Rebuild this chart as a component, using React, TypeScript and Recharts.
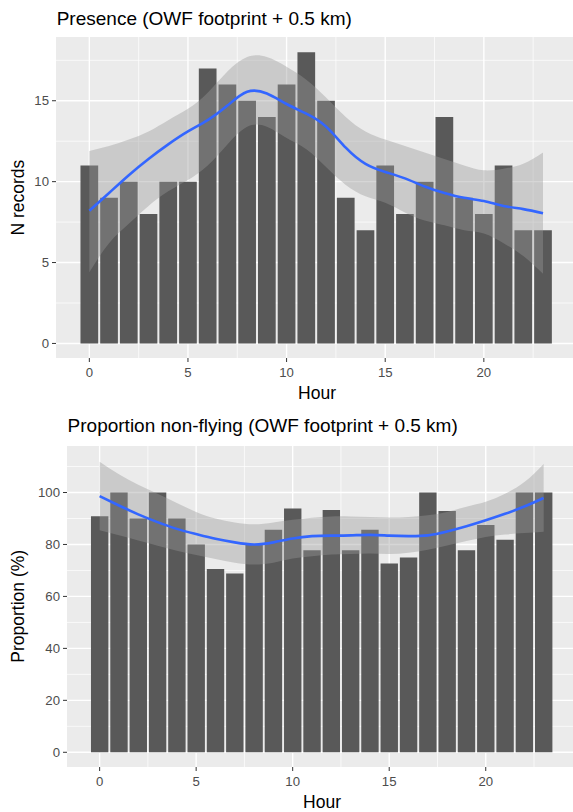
import React from 'react';
import { ComposedChart, Bar, Area, Line, XAxis, YAxis, CartesianGrid } from 'recharts';

const hours = [0, 1, 2, 3, 4, 5, 6, 7, 8, 9, 10, 11, 12, 13, 14, 15, 16, 17, 18, 19, 20, 21, 22, 23];

// top panel: records per hour + loess fit with its band
const presenceCounts = [11, 9, 10, 8, 10, 10, 17, 16, 15, 14, 16, 18, 15, 9, 7, 11, 8, 10, 14, 9, 8, 11, 7, 7];
const presenceFit = [8.2, 9.3, 10.4, 11.4, 12.3, 13.1, 13.8, 14.7, 15.55, 15.45, 14.8, 14.2, 13.4, 12.1, 11.1, 10.6, 10.2, 9.7, 9.3, 9.0, 8.8, 8.5, 8.3, 8.05];
const presenceLower = [4.4, 6.2, 7.4, 8.5, 9.4, 10.1, 11.0, 12.3, 13.4, 13.4, 12.7, 12.0, 10.9, 9.8, 9.1, 8.7, 8.1, 7.6, 7.3, 7.0, 6.8, 6.2, 5.4, 4.3];
const presenceUpper = [11.9, 12.2, 12.6, 13.1, 13.8, 14.5, 15.5, 16.8, 17.7, 17.7, 17.1, 16.3, 15.2, 14.0, 13.1, 12.6, 12.2, 11.8, 11.4, 11.0, 10.7, 10.8, 11.1, 11.8];

// bottom panel: proportion non-flying per hour + loess fit with its band
const nonFlyingPct = [90.9, 100, 90, 100, 90, 80, 70.6, 68.8, 80, 85.7, 93.8, 77.8, 93.3, 77.8, 85.7, 72.7, 75, 100, 92.9, 77.8, 87.5, 81.8, 100, 100];
const nonFlyingFit = [98.6, 95.0, 91.6, 88.6, 86.0, 84.0, 82.2, 80.8, 80.0, 80.8, 82.3, 83.2, 83.4, 83.5, 83.7, 83.4, 83.2, 83.5, 85.0, 87.0, 89.3, 91.8, 94.6, 97.9];
const nonFlyingLower = [85.5, 83.5, 81.5, 79.5, 77.6, 75.9, 74.4, 73.0, 72.3, 73.0, 74.6, 75.5, 76.1, 76.3, 76.5, 76.3, 76.8, 78.0, 79.6, 81.3, 82.9, 83.8, 84.4, 84.9];
const nonFlyingUpper = [111.8, 107.0, 103.0, 99.5, 96.0, 92.5, 90.0, 88.5, 87.8, 88.5, 89.5, 90.3, 90.8, 90.8, 90.6, 90.4, 90.6, 91.2, 92.5, 94.5, 96.4, 99.5, 104.0, 111.0];

const hourTicks = [0, 5, 10, 15, 20];
const hourMinor = [2.5, 7.5, 12.5, 17.5, 22.5];
const countTicks = [0, 5, 10, 15];
const countMinor = [2.5, 7.5, 12.5, 17.5];
const pctTicks = [0, 20, 40, 60, 80, 100];
const pctMinor = [10, 30, 50, 70, 90, 110];

const FONT = '"Liberation Sans", Arial, sans-serif';
const X_DOMAIN = [-1.69, 24.52];

const presenceRows = hours.map((h, i) => ({
  hour: h,
  value: presenceCounts[i],
  fit: presenceFit[i],
  band: [presenceLower[i], presenceUpper[i]],
}));

const nonFlyingRows = hours.map((h, i) => ({
  hour: h,
  value: nonFlyingPct[i],
  fit: nonFlyingFit[i],
  band: [nonFlyingLower[i], nonFlyingUpper[i]],
}));

interface PanelProps {
  rows: Record<string, unknown>[];
  height: number;
  top: number;
  yWidth: number;
  xHeight: number;
  yDomain: number[];
  yTicks: number[];
  yMinor: number[];
  barSize: number;
}

function Panel({ rows, height, top, yWidth, xHeight, yDomain, yTicks, yMinor, barSize }: PanelProps) {
  const tickStyle = { fill: '#4D4D4D', fontSize: 13.2, fontFamily: FONT };
  return (
    <ComposedChart width={573} height={height} data={rows} margin={{ top, right: 0, bottom: 0, left: 0 }}>
      <CartesianGrid fill="#EBEBEB" stroke="#FFFFFF" strokeWidth={0.7} verticalValues={hourMinor} horizontalValues={yMinor} />
      <CartesianGrid stroke="#FFFFFF" strokeWidth={1.4} verticalValues={hourTicks} horizontalValues={yTicks} />
      <XAxis
        type="number"
        dataKey="hour"
        domain={X_DOMAIN}
        ticks={hourTicks}
        allowDataOverflow
        interval={0}
        axisLine={false}
        tickLine={{ stroke: '#333333' }}
        tickSize={4}
        tickMargin={6}
        height={xHeight}
        tick={tickStyle}
      />
      <YAxis
        type="number"
        domain={yDomain}
        ticks={yTicks}
        allowDataOverflow
        interval={0}
        width={yWidth}
        axisLine={false}
        tickLine={{ stroke: '#333333' }}
        tickSize={4}
        tickMargin={3}
        tick={tickStyle}
      />
      <Bar dataKey="value" fill="#595959" barSize={barSize} isAnimationActive={false} />
      <Area dataKey="band" type="natural" stroke="none" fill="#999999" fillOpacity={0.4} isAnimationActive={false} zIndex={350} />
      <Line dataKey="fit" type="natural" stroke="#3366FF" strokeWidth={2.6} dot={false} isAnimationActive={false} />
    </ComposedChart>
  );
}

export default function App() {
  return (
    <div style={{ position: 'absolute', left: 0, top: 0, width: 573, height: 812, background: '#FFFFFF', fontFamily: FONT }}>
      <div style={{ position: 'absolute', left: 0, top: 0 }}>
        <Panel
          rows={presenceRows}
          height={400}
          top={37}
          yWidth={56}
          xHeight={42}
          yDomain={[-0.9, 18.94]}
          yTicks={countTicks}
          yMinor={countMinor}
          barSize={17.7}
        />
      </div>
      <div style={{ position: 'absolute', left: 0, top: 400 }}>
        <Panel
          rows={nonFlyingRows}
          height={412}
          top={46}
          yWidth={67}
          xHeight={45}
          yDomain={[-5.66, 117.9]}
          yTicks={pctTicks}
          yMinor={pctMinor}
          barSize={17.4}
        />
      </div>
      <svg width={573} height={812} style={{ position: 'absolute', left: 0, top: 0, pointerEvents: 'none' }}>
        <g fontFamily={FONT} fill="#000000">
          <text x={56.7} y={25} fontSize={19}>Presence (OWF footprint + 0.5 km)</text>
          <text x={67.6} y={432} fontSize={19}>Proportion non-flying (OWF footprint + 0.5 km)</text>
          <text x={317} y={399.3} fontSize={17.5} textAnchor="middle">Hour</text>
          <text x={322} y={808} fontSize={17.5} textAnchor="middle">Hour</text>
          <text transform="translate(24 197.7) rotate(-90)" fontSize={17.5} textAnchor="middle">N records</text>
          <text transform="translate(24 606.3) rotate(-90)" fontSize={17.5} textAnchor="middle">Proportion (%)</text>
        </g>
      </svg>
    </div>
  );
}
